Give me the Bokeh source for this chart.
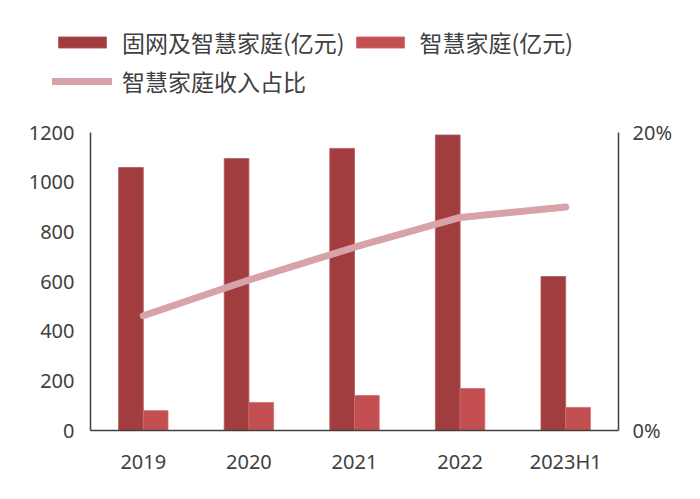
from bokeh.plotting import figure
from bokeh.models import (ColumnDataSource, FactorRange, Range1d, LinearAxis, FixedTicker,
                          NumeralTickFormatter, Legend, LegendItem)
from bokeh.transform import dodge
from bokeh.embed import file_html
from bokeh.resources import INLINE

years = ["2019", "2020", "2021", "2022", "2023H1"]
fixed_smart = [1059, 1095, 1136, 1190, 620]      # 固网及智慧家庭(亿元)
smart_home = [80, 113, 141, 169, 93]              # 智慧家庭(亿元)
smart_share = [0.077, 0.101, 0.123, 0.143, 0.150]  # 智慧家庭收入占比

left_ticks = [0, 200, 400, 600, 800, 1000, 1200]
right_ticks = [0, 0.2]

src = ColumnDataSource(dict(year=years, big=fixed_smart, small=smart_home, share=smart_share))

BIG = "#A23D3F"
SMALL = "#C44F51"
LINE = "#D8A3A8"
TXT = "#404040"
font_num = "Noto Sans"
font_cjk = "Noto Sans CJK SC"

W = 690
LH = 110
H = 378

# ---------------- legend strip ----------------
lg = figure(width=W, height=LH, x_range=Range1d(0, 1), y_range=Range1d(0, 1),
            output_backend="svg", toolbar_location=None,
            x_axis_type=None, y_axis_type=None,
            min_border_left=0, min_border_right=0, min_border_top=0, min_border_bottom=0)
lg.xgrid.visible = False
lg.ygrid.visible = False
lg.outline_line_color = None
dummy = ColumnDataSource(dict(x=[-10.0], y=[-10.0]))
d1 = lg.vbar(x="x", top="y", width=0.1, source=dummy, fill_color=BIG, line_color="#B35A5C", line_width=0.8)
d2 = lg.vbar(x="x", top="y", width=0.1, source=dummy, fill_color=SMALL, line_color="#D06A6C", line_width=0.8)
d3 = lg.line(x="x", y="y", source=dummy, line_color=LINE, line_width=7, line_cap="round")

legend = Legend(items=[LegendItem(label="固网及智慧家庭(亿元)", renderers=[d1]),
                       LegendItem(label="智慧家庭(亿元)", renderers=[d2]),
                       LegendItem(label="智慧家庭收入占比", renderers=[d3])],
                orientation="horizontal", ncols=2,
                location=(52, 12),
                border_line_color=None, background_fill_alpha=0,
                padding=0, margin=0, spacing=5,
                glyph_width=60, glyph_height=14, label_standoff=10,
                label_text_font=font_cjk, label_text_font_size="23px",
                label_text_color=TXT)
lg.add_layout(legend, "center")

# ---------------- main chart ----------------
p = figure(x_range=FactorRange(*years), y_range=Range1d(0, 1200),
           width=W, height=H, output_backend="svg", toolbar_location=None,
           min_border_left=90, min_border_right=W - 618, min_border_top=132 - LH,
           min_border_bottom=LH + H - 430)
p.extra_y_ranges = {"pct": Range1d(0, 0.2)}
p.xgrid.visible = False
p.ygrid.visible = False
p.outline_line_color = None
p.x_range.range_padding = 0

p.vbar(x=dodge("year", -0.117, range=p.x_range), top="big", width=0.234, source=src,
       fill_color=BIG, line_color="#B35A5C", line_width=0.8)
p.vbar(x=dodge("year", 0.117, range=p.x_range), top="small", width=0.234, source=src,
       fill_color=SMALL, line_color="#D06A6C", line_width=0.8)
p.line(x="year", y="share", source=src, y_range_name="pct",
       line_color=LINE, line_width=7, line_cap="round")

ya = p.yaxis[0]
ya.ticker = FixedTicker(ticks=left_ticks)
ya.major_tick_line_color = None
ya.minor_tick_line_color = None
ya.axis_line_color = TXT
ya.axis_line_width = 1.5
ya.major_label_text_font = font_num
ya.major_label_text_font_size = "20px"
ya.major_label_text_color = TXT
ya.major_label_standoff = 10

ra = LinearAxis(y_range_name="pct", ticker=FixedTicker(ticks=right_ticks),
                formatter=NumeralTickFormatter(format="0%"))
ra.major_tick_line_color = None
ra.minor_tick_line_color = None
ra.axis_line_color = TXT
ra.axis_line_width = 1.5
ra.major_label_text_font = font_num
ra.major_label_text_font_size = "20px"
ra.major_label_text_color = TXT
ra.major_label_standoff = 8
p.add_layout(ra, "right")

xa = p.xaxis[0]
xa.major_tick_line_color = None
xa.minor_tick_line_color = None
xa.axis_line_color = TXT
xa.axis_line_width = 1.5
xa.major_label_text_font = font_num
xa.major_label_text_font_size = "20px"
xa.major_label_text_color = TXT
xa.major_label_standoff = 11

open("out.html", "w").write(file_html([lg, p], INLINE))
